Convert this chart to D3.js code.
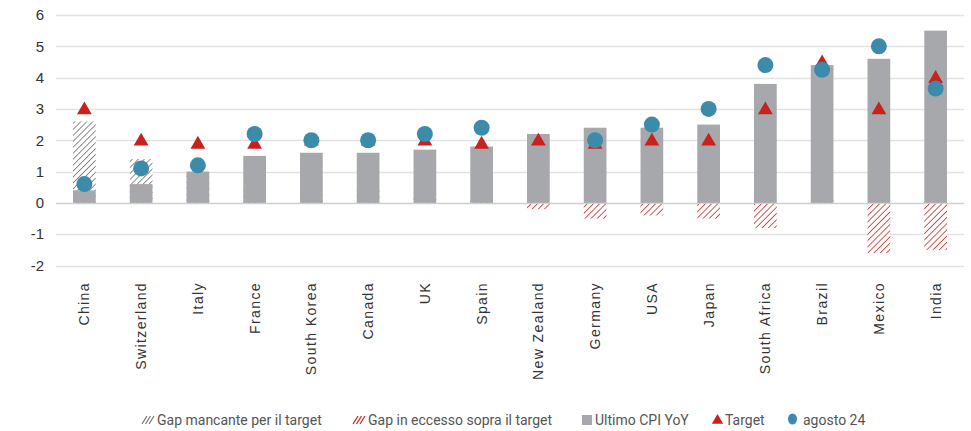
<!DOCTYPE html>
<html>
<head>
<meta charset="utf-8">
<script src="https://cdn.jsdelivr.net/npm/d3@7"></script>
<style>
  body { margin: 0; background: #fff; }
  svg { display: block; }
  .tick-y { font-family: "Liberation Sans", Arial, sans-serif; font-size: 15px; fill: #333; }
  .tick-x { font-family: "Liberation Sans", Arial, sans-serif; font-size: 14px; fill: #333; letter-spacing: 1.4px; }
  .legend text { font-family: Roboto, "Liberation Sans", sans-serif; font-size: 14px; fill: #555; }
</style>
</head>
<body>
<div id="chart"></div>
<script>
// Chart data
const countries = ["China", "Switzerland", "Italy", "France", "South Korea", "Canada", "UK", "Spain",
    "New Zealand", "Germany", "USA", "Japan", "South Africa", "Brazil", "Mexico", "India"];
const cpi = [0.4, 0.6, 1.0, 1.5, 1.6, 1.6, 1.7, 1.8, 2.2, 2.4, 2.4, 2.5, 3.8, 4.4, 4.6, 5.5];
const target = [3.0, 2.0, 1.9, 1.9, 2.0, 2.0, 2.0, 1.9, 2.0, 1.9, 2.0, 2.0, 3.0, 4.5, 3.0, 4.0];
const agosto24 = [0.6, 1.1, 1.2, 2.2, 2.0, 2.0, 2.2, 2.4, null, 2.0, 2.5, 3.0, 4.4, 4.25, 5.0, 3.65];
const gapShort = [2.6, 1.4, 0.9, 0.4, 0.4, 0.4, 0.3, 0.1, 0, 0, 0, 0, 0, 0.1, 0, 0];
const gapExcess = [0, 0, 0, 0, 0, 0, 0, 0, -0.2, -0.5, -0.4, -0.5, -0.8, 0, -1.6, -1.5];
const yTicks = [-2, -1, 0, 1, 2, 3, 4, 5, 6];
const legendLabels = ["Gap mancante per il target", "Gap in eccesso sopra il target", "Ultimo CPI YoY", "Target", "agosto 24"];

const width = 971, height = 431;
const colors = { bar: "#a7a8ab", red: "#c8211e", teal: "#3c8bab", hatchGray: "#555", grid: "#e2e2e2" };

const svg = d3.select("#chart").append("svg")
    .attr("width", width)
    .attr("height", height);

// Hatch patterns
const defs = svg.append("defs");
function hatch(id, color, sw, step) {
    const p = defs.append("pattern")
        .attr("id", id)
        .attr("patternUnits", "userSpaceOnUse")
        .attr("width", step)
        .attr("height", step)
        .attr("patternTransform", "rotate(45)");
    p.append("rect").attr("width", step).attr("height", step).attr("fill", "#fff");
    p.append("line")
        .attr("x1", 0).attr("y1", 0).attr("x2", 0).attr("y2", step)
        .attr("stroke", color)
        .attr("stroke-width", sw);
}
hatch("hatch-gray", colors.hatchGray, 1.3, 4.2);
hatch("hatch-red", colors.red, 1.5, 4.4);

const x = d3.scaleBand()
    .domain(countries)
    .range([56, 964])
    .paddingInner(0.6)
    .paddingOuter(0.3);

const y = d3.scaleLinear()
    .domain([-2, 6])
    .range([265.5, 15]);

// Gridlines
svg.append("g")
    .selectAll("line")
    .data(yTicks)
    .join("line")
    .attr("x1", 56)
    .attr("x2", 964)
    .attr("y1", d => Math.round(y(d)) + 0.5)
    .attr("y2", d => Math.round(y(d)) + 0.5)
    .attr("stroke", d => d === 0 ? "#cfcfcf" : colors.grid)
    .attr("stroke-width", 1.3);

// Y tick labels
svg.append("g")
    .selectAll("text")
    .data(yTicks)
    .join("text")
    .attr("class", "tick-y")
    .attr("x", 44)
    .attr("y", d => y(d))
    .attr("dy", "0.35em")
    .attr("text-anchor", "end")
    .text(d => d);

const idx = countries.map((c, i) => i);

// Gap bars (drawn from zero, under the CPI bars)
svg.append("g")
    .selectAll("rect")
    .data(idx.filter(i => gapShort[i] > 0))
    .join("rect")
    .attr("x", i => x(countries[i]))
    .attr("width", x.bandwidth())
    .attr("y", i => y(gapShort[i]))
    .attr("height", i => y(0) - y(gapShort[i]))
    .attr("fill", "url(#hatch-gray)");

svg.append("g")
    .selectAll("rect")
    .data(idx.filter(i => gapExcess[i] < 0))
    .join("rect")
    .attr("x", i => x(countries[i]))
    .attr("width", x.bandwidth())
    .attr("y", y(0) + 1)
    .attr("height", i => y(gapExcess[i]) - y(0) - 1)
    .attr("fill", "url(#hatch-red)");

// CPI bars
svg.append("g")
    .selectAll("rect")
    .data(idx)
    .join("rect")
    .attr("x", i => x(countries[i]))
    .attr("width", x.bandwidth())
    .attr("y", i => y(cpi[i]))
    .attr("height", i => y(0) - y(cpi[i]))
    .attr("fill", colors.bar);

// Target triangles
const tri = d3.symbol().type(d3.symbolTriangle).size(95);
svg.append("g")
    .selectAll("path")
    .data(idx)
    .join("path")
    .attr("d", tri)
    .attr("transform", i => `translate(${x(countries[i]) + x.bandwidth() / 2},${y(target[i]) + 1})`)
    .attr("fill", colors.red);

// agosto 24 circles
svg.append("g")
    .selectAll("circle")
    .data(idx.filter(i => agosto24[i] != null))
    .join("circle")
    .attr("cx", i => x(countries[i]) + x.bandwidth() / 2)
    .attr("cy", i => y(agosto24[i]))
    .attr("r", 8)
    .attr("fill", colors.teal);

// Category labels (rotated)
svg.append("g")
    .selectAll("text")
    .data(countries)
    .join("text")
    .attr("class", "tick-x")
    .attr("transform", d => `translate(${x(d) + x.bandwidth() / 2 + 5},282) rotate(-90)`)
    .attr("text-anchor", "end")
    .text(d => d);

// Legend
const legend = svg.append("g").attr("class", "legend");
const legendIconX = [142, 353, 582, 712, 788];
const legendTextX = [157, 368, 595, 725, 803];
const legendY = 420;

legendLabels.forEach((label, i) => {
    const g = legend.append("g").attr("transform", `translate(${legendIconX[i]},${legendY})`);
    if (i === 0 || i === 1) {
        const c = i === 0 ? "#777" : colors.red;
        [0, 3.5, 7].forEach(o => {
            g.append("line")
                .attr("x1", o).attr("y1", 4)
                .attr("x2", o + 5).attr("y2", -4)
                .attr("stroke", c)
                .attr("stroke-width", 1.2);
        });
    } else if (i === 2) {
        g.append("rect").attr("x", 0).attr("y", -5).attr("width", 10).attr("height", 10).attr("fill", colors.bar);
    } else if (i === 3) {
        g.append("path").attr("d", d3.symbol().type(d3.symbolTriangle).size(55)).attr("transform", "translate(5.5,0.5)").attr("fill", colors.red);
    } else {
        g.append("ellipse").attr("cx", 4.5).attr("cy", -1).attr("rx", 4.5).attr("ry", 5.5).attr("fill", colors.teal);
    }
    legend.append("text")
        .attr("x", legendTextX[i])
        .attr("y", legendY)
        .attr("dy", "0.35em")
        .text(label);
});
</script>
</body>
</html>
